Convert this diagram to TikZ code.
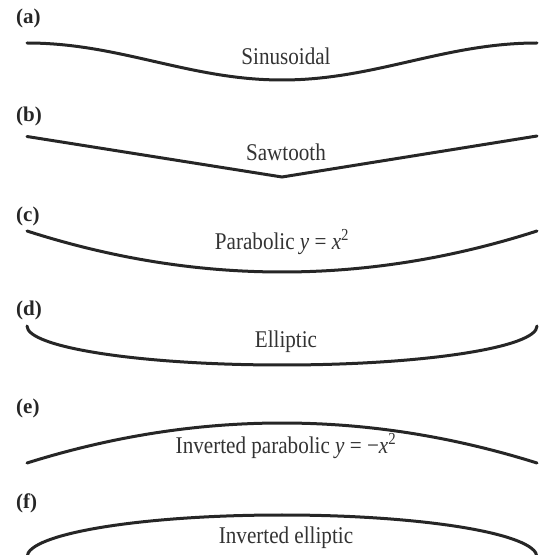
\documentclass[tikz,border=0pt]{standalone}
\usepackage{fontspec}
\setmainfont{Liberation Serif}
\newfontfamily\curvefont[FakeStretch=0.88]{Liberation Serif}
\usepackage{tikz}

\tikzset{
 curve/.style={line width=3pt,color=black!85,line cap=round},
 tag/.style={font=\fontsize{21}{21}\selectfont\bfseries,text=black!85,anchor=base west,inner sep=0pt},
 curvetxt/.style={font=\fontsize{24}{24}\curvefont,text=black!80,anchor=base,inner sep=0pt}
}

\begin{document}
\begin{tikzpicture}[x=1pt,y=1pt]
 \useasboundingbox (0,0) rectangle (539,555);
 % (a) sinusoidal
 \node[tag] (labA) at (16,531) {(a)};
 \draw[curve] plot[domain=27:537,samples=80] (\x,{493.5+18.5*cos(0.70588*(\x-27))});
 \node[curvetxt] (txtA) at (286,490) {Sinusoidal};
 % (b) sawtooth
 \node[tag] (labB) at (16,433) {(b)};
 \draw[curve] (27,418.5)--(282,378)--(537,419);
 \node[curvetxt] (txtB) at (286,394) {Sawtooth};
 % (c) parabolic
 \node[tag] (labC) at (16,333) {(c)};
 \draw[curve] plot[domain=27:537,samples=60] (\x,{283+41*((\x-282)/255)^2});
 \node[curvetxt] (txtC) at (282,305) {Parabolic \textit{y} = \textit{x}\textsuperscript{2}};
 % (d) elliptic
 \node[tag] (labD) at (16,239) {(d)};
 \draw[curve] (27,229) arc[start angle=180,end angle=360,x radius=255,y radius=39];
 \node[curvetxt] (txtD) at (286,207) {Elliptic};
 % (e) inverted parabolic
 \node[tag] (labE) at (16,141) {(e)};
 \draw[curve] plot[domain=27:537,samples=60] (\x,{132-40*((\x-282)/255)^2});
 \node[curvetxt] (txtE) at (286,101) {Inverted parabolic \textit{y} = −\textit{x}\textsuperscript{2}};
 % (f) inverted elliptic
 \node[tag] (labF) at (16,46) {(f)};
 \draw[curve,line cap=butt] (27,-2) arc[start angle=180,end angle=0,x radius=255,y radius=42];
 \node[curvetxt] (txtF) at (286,12) {Inverted elliptic};
\end{tikzpicture}
\end{document}
